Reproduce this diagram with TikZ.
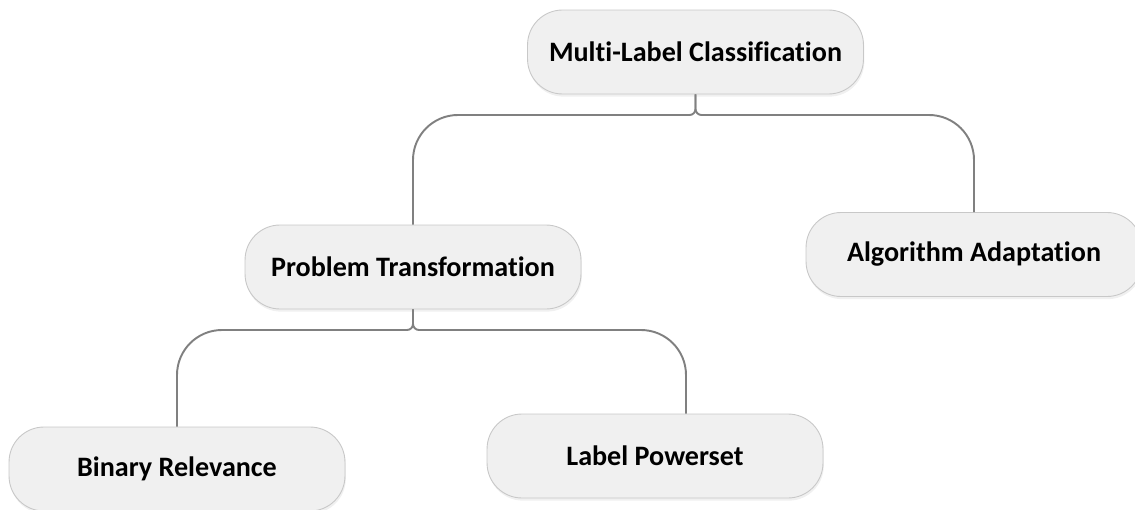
\documentclass[tikz,border=0pt]{standalone}
\usepackage{fontspec}
\setmainfont[Ligatures=NoCommon]{Carlito}
\usepackage{tikz}
\usetikzlibrary{shadows}
\definecolor{boxfill}{RGB}{240,240,240}
\definecolor{boxline}{RGB}{200,200,200}
\definecolor{wire}{RGB}{128,128,128}

\begin{document}
\begin{tikzpicture}[x=0.02cm,y=-0.02cm,
    catbox/.style={draw=boxline,fill=boxfill,line width=0.5pt,rounded corners=0.7cm,
      minimum width=6.72cm,minimum height=1.68cm,inner sep=0,
      font=\fontsize{16}{19}\selectfont\bfseries,
      drop shadow={opacity=0.12,shadow xshift=0.5pt,shadow yshift=-1.5pt}},
    wirepath/.style={draw=wire,line width=1.1pt}]
  \useasboundingbox (0,0) rectangle (1135,510);
  % boxes
  \node[catbox] (mlc) at (695.5,52) {Multi-Label Classification};
  \node[catbox] (pt) at (413,267) {Problem Transformation};
  \node[catbox] (aa) at (974,254.5) {Algorithm Adaptation};
  \node[catbox] (br) at (177,469) {Binary Relevance};
  \node[catbox] (lp) at (655,456) {Label Powerset};
  % junctions
  \coordinate (j1) at (695.5,115);
  \coordinate (j2) at (413,330);
  % top level
  \draw[wirepath] (mlc.south) [rounded corners=0.12cm] |- ([xshift=-0.4cm]j1)
    [rounded corners=0.9cm] -| (pt.north);
  \draw[wirepath] (mlc.south) [rounded corners=0.12cm] |- ([xshift=0.4cm]j1)
    [rounded corners=0.9cm] -| (aa.north);
  % second level
  \draw[wirepath] (pt.south) [rounded corners=0.12cm] |- ([xshift=-0.4cm]j2)
    [rounded corners=0.9cm] -| (br.north);
  \draw[wirepath] (pt.south) [rounded corners=0.12cm] |- ([xshift=0.4cm]j2)
    [rounded corners=0.9cm] -| ([xshift=0.62cm]lp.north);
\end{tikzpicture}
\end{document}
